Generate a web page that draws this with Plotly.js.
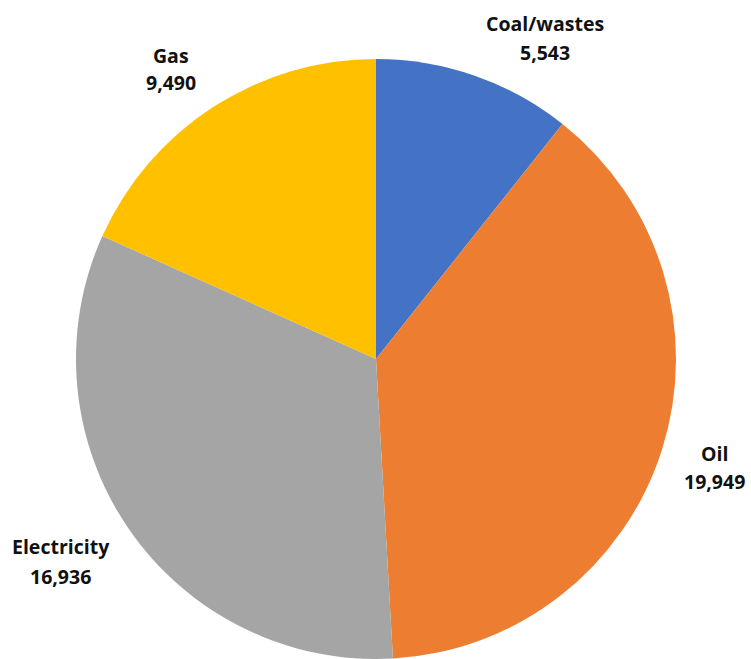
<!DOCTYPE html>
<html>
<head>
<meta charset="utf-8">
<script src="https://cdn.plot.ly/plotly-3.0.1.min.js"></script>
<style>html,body{margin:0;padding:0;background:#fff;}#chart{width:751px;height:659px;}</style>
</head>
<body>
<div id="chart"></div>
<script>
const categories = ["Coal/wastes", "Oil", "Electricity", "Gas"];
const values = [5543, 19949, 16936, 9490];
const valueLabels = ["5,543", "19,949", "16,936", "9,490"];
const colors = ["#4472C4", "#ED7D31", "#A5A5A5", "#FFC000"];

// label anchor positions (paper coords) for each category: name line, value line
const labelX = [0.726, 0.952, 0.081, 0.228];
const nameY = [1 - 24/659, 1 - 453/659, 1 - 546/659, 1 - 55/659];
const valueY = [1 - 52/659, 1 - 481/659, 1 - 576/659, 1 - 83/659];

const annotations = [];
categories.forEach((c, i) => {
  const f = {family: "Open Sans, sans-serif", size: 19.5, color: "#111111", weight: 700};
  annotations.push({text: "<b>" + c + "</b>", x: labelX[i], y: nameY[i], xref: "paper", yref: "paper",
    showarrow: false, xanchor: "center", yanchor: "middle", font: f});
  annotations.push({text: "<b>" + valueLabels[i] + "</b>", x: labelX[i], y: valueY[i], xref: "paper", yref: "paper",
    showarrow: false, xanchor: "center", yanchor: "middle", font: f});
});

const trace = {
  type: "pie",
  labels: categories,
  values: values,
  sort: false,
  direction: "clockwise",
  rotation: 0,
  textinfo: "none",
  hoverinfo: "none",
  marker: {colors: colors, line: {width: 0}},
  domain: {x: [(376 - 300) / 751, (376 + 300) / 751], y: [0, 600 / 659]},
  showlegend: false
};

Plotly.newPlot("chart", [trace], {
  width: 751, height: 659,
  margin: {l: 0, r: 0, t: 0, b: 0},
  paper_bgcolor: "#ffffff",
  showlegend: false,
  annotations: annotations
}, {displayModeBar: false, staticPlot: true});
</script>
</body>
</html>
